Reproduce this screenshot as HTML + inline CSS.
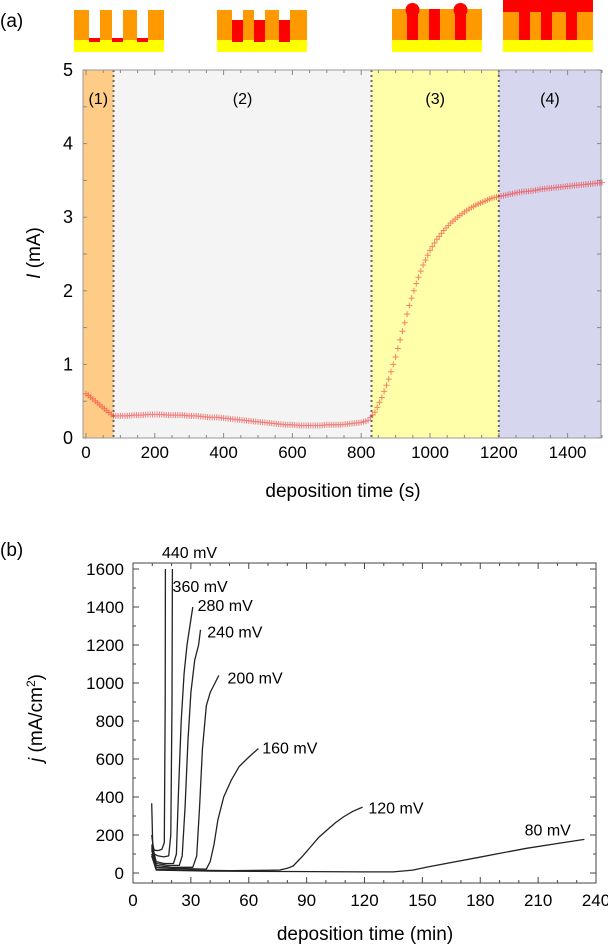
<!DOCTYPE html>
<html><head><meta charset="utf-8"><style>
body{margin:0;background:#fff;font-family:"Liberation Sans",sans-serif}
svg text{font-family:"Liberation Sans",sans-serif}
</style></head><body>
<svg id="fig" width="608" height="944" viewBox="0 0 608 944" xmlns="http://www.w3.org/2000/svg">
<text x="0" y="27" font-size="19">(a)</text>
<text x="0" y="556" font-size="19">(b)</text>
<g>
<rect x="74" y="10" width="90" height="30" fill="#ff9900"/><rect x="74" y="40" width="90" height="12" fill="#ffff00"/>
<rect x="89" y="10" width="11" height="30" fill="#fff"/><rect x="112" y="10" width="11" height="30" fill="#fff"/><rect x="137" y="10" width="11" height="30" fill="#fff"/>
<rect x="89" y="38" width="11" height="4" fill="#f00"/><rect x="112" y="38" width="11" height="4" fill="#f00"/><rect x="137" y="38" width="11" height="4" fill="#f00"/></g>
<g>
<rect x="217" y="10" width="90" height="30" fill="#ff9900"/><rect x="217" y="40" width="90" height="12" fill="#ffff00"/>
<rect x="232" y="10" width="11" height="30" fill="#fff"/><rect x="254" y="10" width="11" height="30" fill="#fff"/><rect x="279" y="10" width="11" height="30" fill="#fff"/>
<rect x="232" y="20" width="11" height="22" fill="#f00"/><rect x="254" y="20" width="11" height="22" fill="#f00"/><rect x="279" y="20" width="11" height="22" fill="#f00"/></g>
<g>
<rect x="392" y="9" width="90" height="31" fill="#ff9900"/><rect x="392" y="40" width="90" height="12" fill="#ffff00"/>
<rect x="407" y="9" width="11" height="31" fill="#f00"/><rect x="429" y="9" width="11" height="31" fill="#f00"/><rect x="455" y="9" width="11" height="31" fill="#f00"/>
<circle cx="412.5" cy="10" r="7" fill="#f00"/><circle cx="460.5" cy="10" r="7" fill="#f00"/></g>
<g>
<rect x="503" y="12" width="90" height="28" fill="#ff9900"/><rect x="503" y="40" width="90" height="12" fill="#ffff00"/>
<rect x="503" y="0" width="90" height="12" fill="#f00"/>
<rect x="519" y="12" width="11" height="28" fill="#f00"/><rect x="541" y="12" width="11" height="28" fill="#f00"/><rect x="566" y="12" width="11" height="28" fill="#f00"/></g>
<g id="pa"></g><g id="pb"></g>
</svg>
<script>
const NS='http://www.w3.org/2000/svg';
function mk(p,t,a){const e=document.createElementNS(NS,t);for(const k in a)e.setAttribute(k,a[k]);p.appendChild(e);return e;}
// ---- Panel A data ----
const aTimes=[0,20,40,60,80,100,120,140,160,180,200,220,240,260,280,300,320,340,360,380,400,420,440,460,480,500,520,540,560,580,600,620,640,660,680,700,720,740,760,780,800,820,840,860,880,900,920,940,960,980,1000,1020,1040,1060,1080,1100,1120,1140,1160,1180,1200,1220,1240,1260,1280,1300,1320,1340,1360,1380,1400,1420,1440,1460,1480,1500];
const aCurrent=[0.6,0.53,0.45,0.37,0.3,0.3,0.3,0.31,0.31,0.32,0.32,0.32,0.31,0.31,0.31,0.3,0.3,0.29,0.28,0.28,0.27,0.26,0.25,0.24,0.23,0.22,0.21,0.2,0.19,0.18,0.18,0.17,0.17,0.17,0.17,0.18,0.18,0.18,0.19,0.2,0.21,0.24,0.35,0.55,0.8,1.1,1.45,1.8,2.1,2.35,2.55,2.7,2.82,2.92,3.0,3.07,3.13,3.18,3.22,3.26,3.28,3.3,3.32,3.34,3.35,3.36,3.38,3.39,3.4,3.41,3.42,3.43,3.44,3.45,3.46,3.47];
const aRegions=[[0,80,'#ffcc88','(1)'],[80,830,'#f4f4f4','(2)'],[830,1200,'#ffffaa','(3)'],[1200,1500,'#d6d6ee','(4)']];
const aXTicks=[0,200,400,600,800,1000,1200,1400];
const aYTicks=[0,1,2,3,4,5];
// ---- Panel B data ----
const bTicksX=[0,30,60,90,120,150,180,210,240];
const bTicksY=[0,200,400,600,800,1000,1200,1400,1600];
const bLabels=['440 mV','360 mV','280 mV','240 mV','200 mV','160 mV','120 mV','80 mV'];
const bT440=[9.7,10.2,11,13,15,16.2,16.7,16.8];const bJ440=[367,150,120,118,125,160,900,1600];
const bT360=[9.7,11,13,16,18.5,19.6,20.2,20.4];const bJ360=[200,100,90,85,90,200,900,1600];
const bT280=[9.7,12,16,21,22.5,23.5,25,26.5,28,29.5,31];const bJ280=[150,60,50,50,100,400,800,1050,1200,1300,1400];
const bT240=[9.7,12,18,24,25.5,27,28.5,30,32,34,35];const bJ240=[140,50,40,40,90,350,700,950,1120,1200,1280];
const bT200=[9.7,12,20,31,33,34.5,36,38,40,42.5,44.5];const bJ200=[130,40,30,30,90,350,650,880,950,1000,1040];
const bT160=[9.7,12,20,38,40,42,44,47,51,55,60,65];const bJ160=[120,30,25,20,60,150,280,400,490,560,610,655];
const bT120=[9.7,12,30,50,70,76,80,83,88,92,96,100.5,105,109,114,119];const bJ120=[100,20,15,12,14,16,25,37,90,137,185,226,265,295,325,347];
const bT80=[9.7,12,40,80,120,135,145,152,165,178,190,204,220,234];const bJ80=[90,15,10,8,6,6,15,30,55,80,103,130,155,177];
const bTs=[bT440,bT360,bT280,bT240,bT200,bT160,bT120,bT80];
const bJs=[bJ440,bJ360,bJ280,bJ240,bJ200,bJ160,bJ120,bJ80];
const bLabelPos=[[0,15,1690],[1,20.5,1510],[2,33.5,1410],[3,38.5,1270],[4,49,1030],[5,67,660],[6,122,345],[7,203,230]];

// Panel A
const pa=document.getElementById('pa');
const ax=v=>86+v*(602-86)/1500, ay=v=>438-v*(438-70)/5;
aRegions.forEach((r,i)=>{
 const x0=i==0?83:ax(r[0]), x1=i==3?601:ax(r[1]);
 const e=mk(pa,'rect',{x:x0,y:70,width:x1-x0,height:368,fill:r[2]});
 
 
 const t=mk(pa,'text',{x:(x0+x1)/2,y:104,'font-size':16,'text-anchor':'middle'});t.textContent=r[3];
 
 
 if(i>0){const d=mk(pa,'line',{x1:ax(r[0]),x2:ax(r[0]),y1:70,y2:438,stroke:'#666','stroke-width':2,'stroke-dasharray':'2,3'});
 
 }
});
const fa=mk(pa,'rect',{x:83,y:70,width:518,height:368,fill:'none',stroke:'#999'});


for(let v=0;v<=1500;v+=50){const big=v%200==0;mk(pa,'line',{x1:ax(v),x2:ax(v),y1:438,y2:438-(big?5:3),stroke:'#888'});mk(pa,'line',{x1:ax(v),x2:ax(v),y1:70,y2:70+(big?5:3),stroke:'#888'});}
for(let v=0;v<=5;v+=0.5){mk(pa,'line',{x1:83,x2:87,y1:ay(v),y2:ay(v),stroke:'#888'});mk(pa,'line',{x1:601,x2:597,y1:ay(v),y2:ay(v),stroke:'#888'});}
aXTicks.forEach(v=>{const t=mk(pa,'text',{x:ax(v),y:458,'font-size':17,'text-anchor':'middle'});t.textContent=v;
 
 });
aYTicks.forEach(v=>{const t=mk(pa,'text',{x:73,y:ay(v)+6,'font-size':18,'text-anchor':'end'});t.textContent=v;
 
 });
const xta=mk(pa,'text',{x:343,y:497,'font-size':19,'text-anchor':'middle'});xta.textContent='deposition time (s)';


const yta=mk(pa,'text',{x:0,y:0,'font-size':19,'text-anchor':'middle',transform:'translate(40,253) rotate(-90)'});
yta.innerHTML='<tspan font-style="italic">I</tspan> (mA)';


const sa=mk(pa,'g',{stroke:'#ee3333','stroke-width':1,opacity:0.6});


for(let i=0;i<aTimes.length;i++){
 const x=ax(aTimes[i]),y=ay(aCurrent[i]);
 const p=mk(sa,'path',{d:`M${x-3} ${y}h6M${x} ${y-3}v6`});
 
 
 if(i<aTimes.length-1){for(let k=1;k<3;k++){const x2=x+(ax(aTimes[i+1])-x)*k/3,y2=y+(ay(aCurrent[i+1])-y)*k/3;mk(sa,'path',{d:`M${x2-3} ${y2}h6M${x2} ${y2-3}v6`});}}
}
// Panel B
const pb=document.getElementById('pb');
const bx=v=>133+v*(596-133)/240, by=v=>873-v*(873-569)/1600;
const fb=mk(pb,'rect',{x:133,y:563,width:463,height:320,fill:'none',stroke:'#444'});


for(let v=0;v<=240;v+=10){const big=v%30==0;mk(pb,'line',{x1:bx(v),x2:bx(v),y1:883,y2:883-(big?6:3),stroke:'#444'});mk(pb,'line',{x1:bx(v),x2:bx(v),y1:563,y2:563+(big?6:3),stroke:'#444'});}
for(let v=0;v<=1600;v+=100){const big=v%200==0;mk(pb,'line',{x1:133,x2:133+(big?6:3),y1:by(v),y2:by(v),stroke:'#444'});mk(pb,'line',{x1:596,x2:596-(big?6:3),y1:by(v),y2:by(v),stroke:'#444'});}
bTicksX.forEach(v=>{const t=mk(pb,'text',{x:bx(v),y:906,'font-size':17,'text-anchor':'middle'});t.textContent=v;
 
 });
bTicksY.forEach(v=>{const t=mk(pb,'text',{x:124,y:by(v)+6,'font-size':17,'text-anchor':'end'});t.textContent=v;
 
 });
const xtb=mk(pb,'text',{x:365,y:940,'font-size':19,'text-anchor':'middle'});xtb.textContent='deposition time (min)';


const ytb=mk(pb,'text',{x:0,y:0,'font-size':19,'text-anchor':'middle',transform:'translate(42,718) rotate(-90)'});
ytb.innerHTML='<tspan font-style="italic">j</tspan> (mA/cm<tspan font-size="12" dy="-7">2</tspan><tspan dy="7">)</tspan>';


bTs.forEach((ts,i)=>{
 const d=ts.map((t,k)=>(k?'L':'M')+bx(t).toFixed(1)+' '+by(bJs[i][k]).toFixed(1)).join('');
 const p=mk(pb,'path',{d:d,fill:'none',stroke:'#222','stroke-width':1.3,'stroke-linejoin':'round'});
 
 
});
bLabelPos.forEach(l=>{const t=mk(pb,'text',{x:bx(l[1]),y:by(l[2])+6,'font-size':16});t.textContent=bLabels[l[0]];
 
 });
</script>
</body></html>
